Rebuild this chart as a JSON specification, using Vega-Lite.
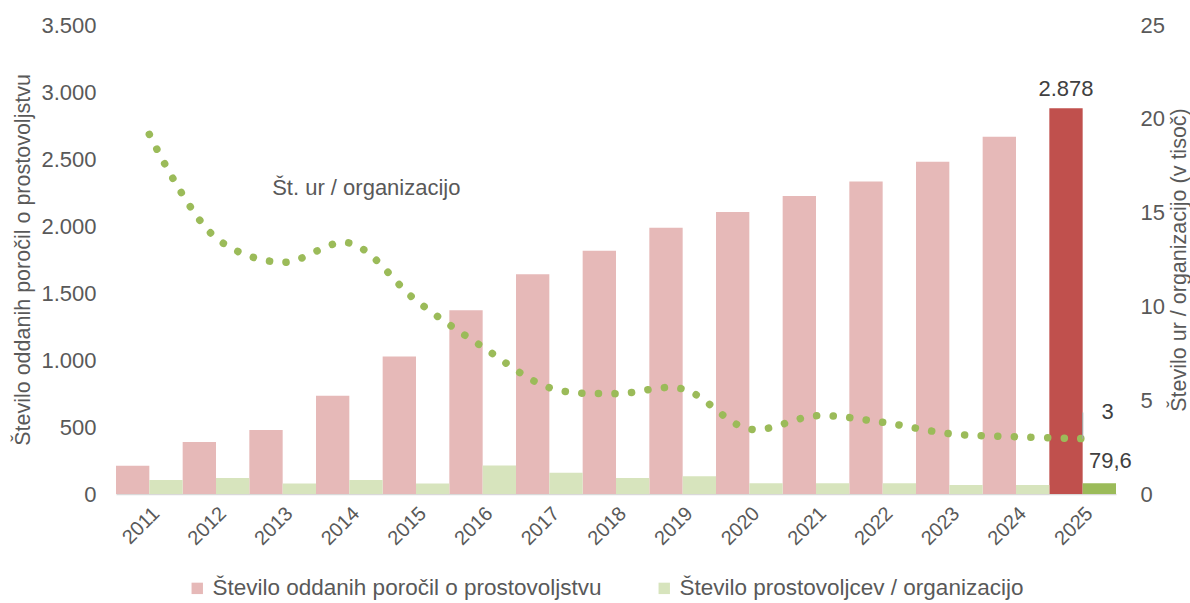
{
  "$schema": "https://vega.github.io/schema/vega-lite/v6.json",
  "width": 1000,
  "height": 469,
  "autosize": {"type": "none"},
  "padding": {"left": 116, "top": 25, "right": 74, "bottom": 109},
  "config": {
    "locale": {"number": {"decimal": ",", "thousands": ".", "grouping": [3], "currency": ["", " €"]}},
    "view": {"stroke": null},
    "font": "Liberation Sans",
    "axis": {"labelColor": "#595959", "titleColor": "#595959", "grid": false, "ticks": false, "labelFont": "Liberation Sans", "titleFont": "Liberation Sans", "titleFontWeight": "normal"},
    "text": {"font": "Liberation Sans", "color": "#404040"}
  },
  "datasets": {
    "bars": [
      {"year": "2011", "series": "Število oddanih poročil o prostovoljstvu", "value": 211},
      {"year": "2012", "series": "Število oddanih poročil o prostovoljstvu", "value": 388},
      {"year": "2013", "series": "Število oddanih poročil o prostovoljstvu", "value": 478},
      {"year": "2014", "series": "Število oddanih poročil o prostovoljstvu", "value": 733},
      {"year": "2015", "series": "Število oddanih poročil o prostovoljstvu", "value": 1026},
      {"year": "2016", "series": "Število oddanih poročil o prostovoljstvu", "value": 1371},
      {"year": "2017", "series": "Število oddanih poročil o prostovoljstvu", "value": 1639},
      {"year": "2018", "series": "Število oddanih poročil o prostovoljstvu", "value": 1815},
      {"year": "2019", "series": "Število oddanih poročil o prostovoljstvu", "value": 1987},
      {"year": "2020", "series": "Število oddanih poročil o prostovoljstvu", "value": 2105},
      {"year": "2021", "series": "Število oddanih poročil o prostovoljstvu", "value": 2224},
      {"year": "2022", "series": "Število oddanih poročil o prostovoljstvu", "value": 2332},
      {"year": "2023", "series": "Število oddanih poročil o prostovoljstvu", "value": 2480},
      {"year": "2024", "series": "Število oddanih poročil o prostovoljstvu", "value": 2666},
      {"year": "2025", "series": "Število oddanih poročil o prostovoljstvu", "value": 2878},
      {"year": "2011", "series": "Število prostovoljcev / organizacijo", "value": 105},
      {"year": "2012", "series": "Število prostovoljcev / organizacijo", "value": 120},
      {"year": "2013", "series": "Število prostovoljcev / organizacijo", "value": 78},
      {"year": "2014", "series": "Število prostovoljcev / organizacijo", "value": 105},
      {"year": "2015", "series": "Število prostovoljcev / organizacijo", "value": 78},
      {"year": "2016", "series": "Število prostovoljcev / organizacijo", "value": 212},
      {"year": "2017", "series": "Število prostovoljcev / organizacijo", "value": 158},
      {"year": "2018", "series": "Število prostovoljcev / organizacijo", "value": 120},
      {"year": "2019", "series": "Število prostovoljcev / organizacijo", "value": 133},
      {"year": "2020", "series": "Število prostovoljcev / organizacijo", "value": 80},
      {"year": "2021", "series": "Število prostovoljcev / organizacijo", "value": 80},
      {"year": "2022", "series": "Število prostovoljcev / organizacijo", "value": 80},
      {"year": "2023", "series": "Število prostovoljcev / organizacijo", "value": 68},
      {"year": "2024", "series": "Število prostovoljcev / organizacijo", "value": 68},
      {"year": "2025", "series": "Število prostovoljcev / organizacijo", "value": 79.6}
    ],
    "line": [
      {"year": "2011", "hours": 19.17},
      {"year": "2012", "hours": 13.65},
      {"year": "2013", "hours": 12.35},
      {"year": "2014", "hours": 13.38},
      {"year": "2015", "hours": 10.32},
      {"year": "2016", "hours": 7.84},
      {"year": "2017", "hours": 5.67},
      {"year": "2018", "hours": 5.35},
      {"year": "2019", "hours": 5.6},
      {"year": "2020", "hours": 3.46},
      {"year": "2021", "hours": 4.17},
      {"year": "2022", "hours": 3.82},
      {"year": "2023", "hours": 3.22},
      {"year": "2024", "hours": 3.05},
      {"year": "2025", "hours": 2.95}
    ],
    "annot": [
      {"year": "2014", "hours": 16.3, "label": "Št. ur / organizacijo"}
    ],
    "leader": [
      {"year": "2025", "hours": 2.95, "top": 4.35}
    ]
  },
  "encoding": {
    "x": {
      "field": "year", "type": "ordinal", "title": null,
      "scale": {"paddingInner": 0, "paddingOuter": 0},
      "axis": {"labelAngle": -45, "labelFontSize": 20, "labelPadding": 9, "domainColor": "#D9D9D9", "domainWidth": 1.5}
    }
  },
  "layer": [
    {
      "data": {"name": "bars"},
      "encoding": {
        "y": {
          "field": "value", "type": "quantitative",
          "scale": {"domain": [0, 3500]},
          "axis": {"values": [0, 500, 1000, 1500, 2000, 2500, 3000, 3500], "format": ",d", "labelFontSize": 22, "labelPadding": 20, "domain": false, "title": "Število oddanih poročil o prostovoljstvu", "titleFontSize": 21.5, "titlePadding": 6}
        }
      },
      "layer": [
        {
          "mark": {"type": "bar"},
          "encoding": {
            "xOffset": {"field": "series", "type": "nominal", "sort": ["Število oddanih poročil o prostovoljstvu", "Število prostovoljcev / organizacijo"]},
            "color": {
              "field": "series", "type": "nominal",
              "scale": {"domain": ["Število oddanih poročil o prostovoljstvu", "Število prostovoljcev / organizacijo"], "range": ["#E6B9B8", "#D7E4BD"]},
              "legend": {"orient": "none", "legendX": 70, "legendY": 552, "direction": "horizontal", "title": null, "symbolType": "square", "symbolSize": 130, "symbolStrokeWidth": 0, "labelFontSize": 22.5, "labelColor": "#595959", "labelFont": "Liberation Sans", "labelLimit": 0, "columnPadding": 51, "labelOffset": 4},
              "condition": [
                {"test": "datum.year == '2025' && datum.series == 'Število oddanih poročil o prostovoljstvu'", "value": "#C0504D"},
                {"test": "datum.year == '2025'", "value": "#9BBB59"}
              ]
            }
          }
        },
        {
          "transform": [{"filter": "datum.year == '2025' && datum.series == 'Število oddanih poročil o prostovoljstvu'"}],
          "mark": {"type": "text", "baseline": "bottom", "dy": -7, "fontSize": 22},
          "encoding": {
            "xOffset": {"field": "series", "type": "nominal", "sort": ["Število oddanih poročil o prostovoljstvu", "Število prostovoljcev / organizacijo"]},
            "text": {"field": "value", "type": "quantitative", "format": ",d"}
          }
        },
        {
          "transform": [{"filter": "datum.year == '2025' && datum.series == 'Število prostovoljcev / organizacijo'"}],
          "mark": {"type": "text", "baseline": "bottom", "dy": -10, "dx": 11, "fontSize": 22},
          "encoding": {
            "xOffset": {"field": "series", "type": "nominal", "sort": ["Število oddanih poročil o prostovoljstvu", "Število prostovoljcev / organizacijo"]},
            "text": {"field": "value", "type": "quantitative", "format": ".1f"}
          }
        }
      ]
    },
    {
      "encoding": {
        "y": {
          "field": "hours", "type": "quantitative",
          "scale": {"domain": [0, 25]},
          "axis": {"orient": "right", "values": [0, 5, 10, 15, 20, 25], "format": "d", "labelFontSize": 22, "labelPadding": 24, "domain": false, "title": "Število ur / organizacijo (v tisoč)", "titleFontSize": 21.5, "titlePadding": 4, "titleAngle": -90, "titleBaseline": "top"}
        }
      },
      "layer": [
        {
          "data": {"name": "line"},
          "mark": {"type": "line", "color": "#9BBB59", "strokeWidth": 7.5, "strokeCap": "round", "strokeDash": [0.1, 16.5], "interpolate": "catmull-rom"}
        },
        {
          "data": {"name": "leader"},
          "mark": {"type": "rule", "color": "#A6A6A6", "strokeWidth": 1.2},
          "encoding": {"y2": {"field": "top"}}
        },
        {
          "data": {"name": "line"},
          "transform": [{"filter": "datum.year == '2025'"}],
          "mark": {"type": "text", "fontSize": 22, "dx": 25, "dy": -27},
          "encoding": {"text": {"field": "hours", "type": "quantitative", "format": ".0f"}}
        },
        {
          "data": {"name": "annot"},
          "mark": {"type": "text", "fontSize": 22, "dx": 17, "color": "#595959"},
          "encoding": {"text": {"field": "label", "type": "nominal"}}
        }
      ]
    }
  ],
  "resolve": {"scale": {"y": "independent"}}
}
